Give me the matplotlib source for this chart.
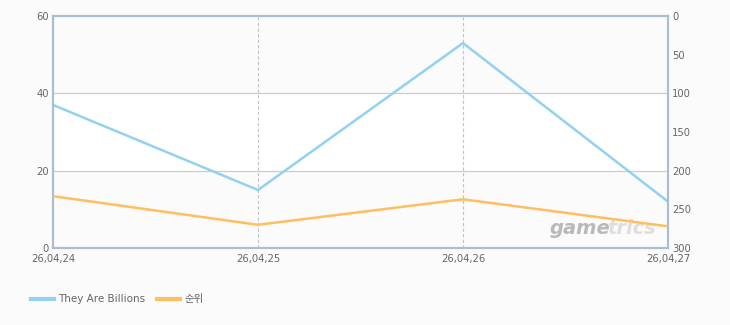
import matplotlib
matplotlib.use("Agg")
import matplotlib.pyplot as plt

plt.rcParams['font.family'] = ['DejaVu Sans', 'Noto Sans CJK KR']

dates = ["26,04,24", "26,04,25", "26,04,26", "26,04,27"]
players = [37, 15, 53, 12]
rank = [233, 270, 237, 272]
series_names = ["They Are Billions", "순위"]

blue = "#92d1f0"
orange = "#ffbf60"
spine_c = "#a9bdd3"
text_c = "#666666"

fig = plt.figure(figsize=(7.3, 3.25), dpi=100)
fig.patch.set_facecolor("#fbfbfb")
ax = fig.add_axes([53/730, 1-248/325, (668-53)/730, (248-16)/325])
ax.set_facecolor("#fbfbfb")
x = list(range(len(dates)))
ax.set_xlim(0, len(dates)-1)
ax.set_ylim(0, 60)
ax.axhspan(20, 40, color="white", zorder=0)
for yv in [20, 40]:
    ax.axhline(yv, color="#cccccc", lw=0.9, zorder=1)
for xv in x[1:-1]:
    ax.axvline(xv, color="#c4c4c4", lw=0.8, ls=(0, (3, 2)), zorder=1)

l1, = ax.plot(x, players, color=blue, lw=1.8, zorder=3, label=series_names[0])
ax2 = ax.twinx()
ax2.set_ylim(300, 0)
l2, = ax2.plot(x, rank, color=orange, lw=1.8, zorder=3, label=series_names[1])

ax.set_xticks(x)
ax.set_xticklabels(dates)
ax.set_yticks([0, 20, 40, 60])
ax2.set_yticks([0, 50, 100, 150, 200, 250, 300])
for a in (ax, ax2):
    a.tick_params(length=0, labelsize=7.2, colors=text_c, pad=3)
    for s in a.spines.values():
        s.set_color(spine_c)
        s.set_linewidth(1.5)
ax.tick_params(axis='x', pad=4)

wm = ax.text(0.808, 0.045, "game", transform=ax.transAxes, ha="left", va="bottom",
             fontsize=14, fontstyle="italic", fontweight="bold", color="#b9b9b9", zorder=2)
ax.annotate("trics", xy=(1, 0), xycoords=wm, xytext=(-2.5, 0), textcoords="offset points",
            ha="left", va="bottom",
            fontsize=14, fontstyle="italic", fontweight="bold", color="#dedede", zorder=2)

leg = fig.legend(handles=[l1, l2], loc="lower left", bbox_to_anchor=(0.03, 0.035),
                 ncol=2, frameon=False, fontsize=7.5, handlelength=2.2,
                 columnspacing=1.2, handletextpad=0.35)
for t in leg.get_texts():
    t.set_color(text_c)
for h in leg.get_lines():
    h.set_linewidth(3)

fig.savefig("out.png", dpi=100, facecolor=fig.get_facecolor())
